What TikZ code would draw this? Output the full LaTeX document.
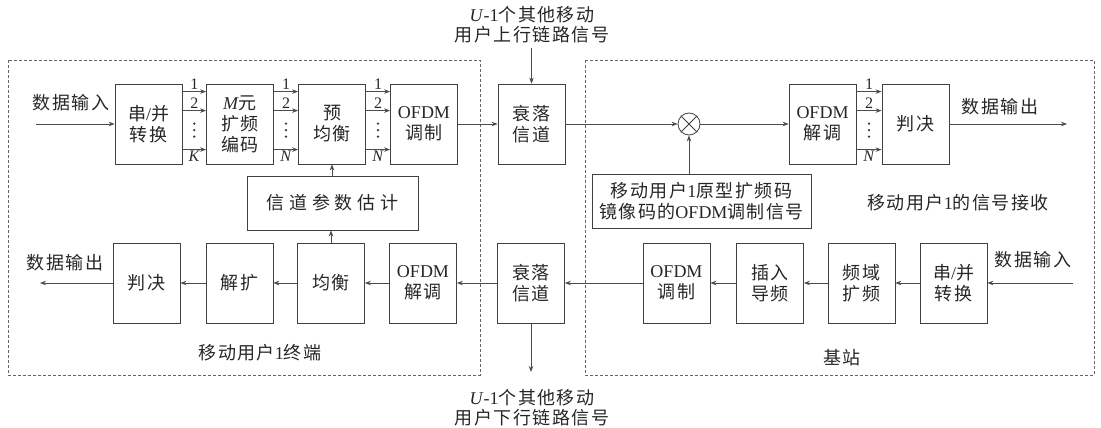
\documentclass[tikz,border=0pt]{standalone}
\usepackage{fontspec}
\setmainfont{Liberation Serif}
\newfontfamily\cjk[LetterSpace=8]{Noto Sans CJK SC}
\newfontfamily\cjkwide[LetterSpace=26]{Noto Sans CJK SC}
\usetikzlibrary{arrows.meta,calc}
\newcommand{\zh}[1]{{\cjk #1}}
\newcommand{\busarrows}[3]{%
  \foreach \dy in {8,27,66}
    \draw[arr] ($(#1.north east)+(0,\dy)$) -- ($(#2.north west)+(0,\dy)$);
  \coordinate (#1-m) at ($(#1.north east)!0.5!(#2.north west)$);
  \node[lab, anchor=south] (#1-l1) at ($(#1-m)+(0,8)$) {1};
  \node[lab, anchor=south] (#1-l2) at ($(#1-m)+(0,27)$) {2};
  \foreach \dy in {40,46.5,53}
    \fill[black!80] ($(#1-m)+(0,\dy)$) circle (1.3);
  \node[lab, anchor=north] (#1-l4) at ($(#1-m)+(0,66)$) {\textit{#3}};
}
\tikzset{
  blk/.style={draw=black!75, line width=0.8pt, minimum width=67, minimum height=80,
    inner sep=1pt, align=center, text=black!85, font=\fontsize{18}{21}\selectfont},
  region/.style={draw=black!60, line width=0.8pt, densely dashed},
  arr/.style={draw=black!70, line width=0.8pt, -{Stealth[length=6pt,width=4.5pt]}},
  lab/.style={inner sep=1.5pt, text=black!85, font=\fontsize{16}{17}\selectfont},
  txt/.style={inner sep=0pt, align=center, text=black!85, font=\fontsize{18}{20}\selectfont},
}
\begin{document}
\begin{tikzpicture}[x=1pt,y=-1pt]
\useasboundingbox (0,0) rectangle (1101,428);
% regions
\draw[region] (8,60) rectangle (480,375);
\draw[region] (585,60) rectangle (1094,375);

% top row
\node[blk] (sp1) at (148.5,124) {\zh{串}/\zh{并}\\\zh{转换}};
\node[blk] (enc) at (240,124) {\textit{M}\zh{元}\\\zh{扩频}\\\zh{编码}};
\node[blk] (peq) at (332,124) {\zh{预}\\\zh{均衡}};
\node[blk] (ofdmm) at (424,124) {OFDM\\\zh{调制}};
\node[blk] (ch1) at (531.5,124) {\zh{衰落}\\\zh{信道}};
\node[draw=black!75, line width=0.8pt, circle, minimum size=22, inner sep=0pt] (mult) at (689,124) {};
\draw[black!75, line width=0.8pt] (mult.north east) -- (mult.south west) (mult.north west) -- (mult.south east);
\node[blk] (ofdmd) at (822.5,124) {OFDM\\\zh{解调}};
\node[blk] (dec1) at (915.5,124) {\zh{判决}};
\node[blk, minimum width=171, minimum height=54] (est) at (332.5,203) {\cjkwide 信道参数估计};
\node[blk, minimum width=219, minimum height=54] (mirror) at (701.5,201)
  {\zh{移动用户}1\zh{原型扩频码}\\\zh{镜像码的}OFDM\zh{调制信号}};

% bottom row
\node[blk] (dec2) at (146.5,283) {\zh{判决}};
\node[blk] (desp) at (239.5,283) {\zh{解扩}};
\node[blk] (eq) at (331,283) {\zh{均衡}};
\node[blk] (ofdmd2) at (423,283) {OFDM\\\zh{解调}};
\node[blk] (ch2) at (531,283) {\zh{衰落}\\\zh{信道}};
\node[blk] (ofdmm2) at (676.5,283) {OFDM\\\zh{调制}};
\node[blk] (pilot) at (770,283) {\zh{插入}\\\zh{导频}};
\node[blk] (fspread) at (861.5,283) {\zh{频域}\\\zh{扩频}};
\node[blk] (sp2) at (953.5,283) {\zh{串}/\zh{并}\\\zh{转换}};

% free ends
\coordinate (in1) at (36,124);
\coordinate (out1) at (1067,124);
\coordinate (in2) at (1073,283);
\coordinate (out2) at (40,283);
\coordinate (uin) at (531.5,48);
\coordinate (dout) at (531,372);

% top connectors
\draw[arr] (in1) -- (sp1.west);
\busarrows{sp1}{enc}{K}
\busarrows{enc}{peq}{N}
\busarrows{peq}{ofdmm}{N}
\draw[arr] (ofdmm.east) -- (ch1.west);
\draw[arr] (uin) -- (ch1.north);
\draw[arr] (ch1.east) -- (mult.west);
\draw[arr] (mult.east) -- (ofdmd.west);
\draw[arr] (mirror.north -| mult) -- (mult.south);
\busarrows{ofdmd}{dec1}{N}
\draw[arr] (dec1.east) -- (out1);
\draw[arr] (est.north -| peq) -- (peq.south);
\draw[arr] (eq.north) -- (eq.north |- est.south);

% bottom connectors
\draw[arr] (in2) -- (sp2.east);
\draw[arr] (sp2.west) -- (fspread.east);
\draw[arr] (fspread.west) -- (pilot.east);
\draw[arr] (pilot.west) -- (ofdmm2.east);
\draw[arr] (ofdmm2.west) -- (ch2.east);
\draw[arr] (ch2.west) -- (ofdmd2.east);
\draw[arr] (ofdmd2.west) -- (eq.east);
\draw[arr] (eq.west) -- (desp.east);
\draw[arr] (desp.west) -- (dec2.east);
\draw[arr] (dec2.west) -- (out2);
\draw[arr] (ch2.south) -- (dout);

% text labels
\node[txt] (tin1) at (71,103) {\zh{数据输入}};
\node[txt] (tout1) at (1000,107) {\zh{数据输出}};
\node[txt] (trecv) at (958,203) {\zh{移动用户}1\zh{的信号接收}};
\node[txt] (tout2) at (65,263) {\zh{数据输出}};
\node[txt] (tterm) at (260,353) {\zh{移动用户}1\zh{终端}};
\node[txt] (tin2) at (1033,260) {\zh{数据输入}};
\node[txt] (tbs) at (842,358) {\zh{基站}};
\node[txt] (tup) at (532,25) {\textit{U}-1\zh{个其他移动}\\\zh{用户上行链路信号}};
\node[txt] (tdown) at (532,408) {\textit{U}-1\zh{个其他移动}\\\zh{用户下行链路信号}};
\end{tikzpicture}
\end{document}
